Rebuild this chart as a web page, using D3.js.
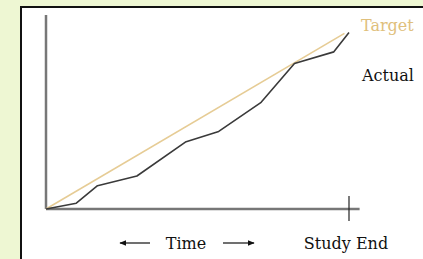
<!DOCTYPE html>
<html>
<head>
<meta charset="utf-8">
<script src="https://cdn.jsdelivr.net/npm/d3@7"></script>
<style>
  body { margin: 0; background: #eef7d3; }
  svg { display: block; }
  text { font-family: "DejaVu Serif", serif; font-size: 16px; }
</style>
</head>
<body>
<script>
// progress over study time (0 = start, 100 = study end)
var actualTime = [0, 10, 17, 30, 46, 57, 71, 82, 95, 100];
var actualValue = [0, 3, 12, 17, 34.5, 40, 55, 75, 81, 91];
var targetTime = [0, 98.5];
var targetValue = [0, 90.5];
var seriesNames = ['Target', 'Actual'];
var axisLabel = 'Time';
var endLabel = 'Study End';

var width = 423, height = 259;

var svg = d3.select('body').append('svg')
    .attr('width', width).attr('height', height);

// white panel with black frame (runs off the right and bottom edges)
svg.append('rect')
    .attr('x', 21).attr('y', 7)
    .attr('width', 420).attr('height', 270)
    .attr('fill', '#fff').attr('stroke', '#111').attr('stroke-width', 2);

var x = d3.scaleLinear().domain([0, 100]).range([46, 349]);
var y = d3.scaleLinear().domain([0, 100]).range([209, 15]);

// axes
svg.append('line')
    .attr('x1', x(0)).attr('x2', x(0))
    .attr('y1', y(0)).attr('y2', y(100))
    .attr('stroke', '#777').attr('stroke-width', 2.5);
svg.append('line')
    .attr('x1', x(0)).attr('x2', x(103.5))
    .attr('y1', y(0)).attr('y2', y(0))
    .attr('stroke', '#777').attr('stroke-width', 2.5);
// study end tick
svg.append('line')
    .attr('x1', x(100)).attr('x2', x(100))
    .attr('y1', y(0) - 13).attr('y2', y(0) + 12)
    .attr('stroke', '#222').attr('stroke-width', 1.2);

var line = d3.line()
    .x(function(d) { return x(d[0]); })
    .y(function(d) { return y(d[1]); });

svg.append('path')
    .attr('d', line(d3.zip(targetTime, targetValue)))
    .attr('fill', 'none').attr('stroke', '#e6cc95').attr('stroke-width', 1.6);

svg.append('path')
    .attr('d', line(d3.zip(actualTime, actualValue)))
    .attr('fill', 'none').attr('stroke', '#3a3a3a').attr('stroke-width', 1.6)
    .attr('stroke-linejoin', 'round');

// legend labels
svg.append('text').attr('x', 361).attr('y', 31)
    .attr('fill', '#e0c07c').text(seriesNames[0]);
svg.append('text').attr('x', 362).attr('y', 81)
    .attr('fill', '#111').text(seriesNames[1]);

// x axis labels
svg.append('text').attr('x', 186).attr('y', 249)
    .attr('text-anchor', 'middle').attr('fill', '#111').text(axisLabel);
svg.append('text').attr('x', 346).attr('y', 249)
    .attr('text-anchor', 'middle').attr('fill', '#111').text(endLabel);

// arrows around "Time"
svg.append('defs').append('marker')
    .attr('id', 'head').attr('viewBox', '0 0 10 10')
    .attr('refX', 9).attr('refY', 5)
    .attr('markerWidth', 7).attr('markerHeight', 7)
    .attr('markerUnits', 'userSpaceOnUse')
    .attr('orient', 'auto')
  .append('path').attr('d', 'M0,1L10,5L0,9Z').attr('fill', '#111');

svg.append('line')
    .attr('x1', 150).attr('x2', 120).attr('y1', 243).attr('y2', 243)
    .attr('stroke', '#111').attr('stroke-width', 1.2)
    .attr('marker-end', 'url(#head)');
svg.append('line')
    .attr('x1', 223).attr('x2', 254).attr('y1', 243).attr('y2', 243)
    .attr('stroke', '#111').attr('stroke-width', 1.2)
    .attr('marker-end', 'url(#head)');
</script>
</body>
</html>
